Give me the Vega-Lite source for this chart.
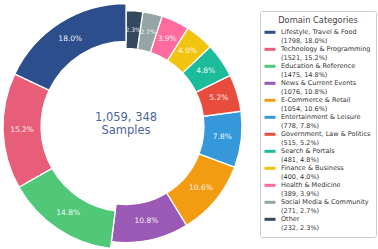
{
  "$schema": "https://vega.github.io/schema/vega-lite/v6.json",
  "width": 250,
  "height": 245,
  "padding": 0,
  "autosize": {"type": "pad"},
  "background": "white",
  "config": {"view": {"stroke": null}, "font": "DejaVu Sans"},
  "layer": [
    {
      "data": {
        "values": [
          {"category": "Lifestyle, Travel & Food", "count": 1798, "pct": 18.0, "rank": 1},
          {"category": "Technology & Programming", "count": 1521, "pct": 15.2, "rank": 2},
          {"category": "Education & Reference", "count": 1475, "pct": 14.8, "rank": 3},
          {"category": "News & Current Events", "count": 1076, "pct": 10.8, "rank": 4},
          {"category": "E-Commerce & Retail", "count": 1054, "pct": 10.6, "rank": 5},
          {"category": "Entertainment & Leisure", "count": 778, "pct": 7.8, "rank": 6},
          {"category": "Government, Law & Politics", "count": 515, "pct": 5.2, "rank": 7},
          {"category": "Search & Portals", "count": 481, "pct": 4.8, "rank": 8},
          {"category": "Finance & Business", "count": 400, "pct": 4.0, "rank": 9},
          {"category": "Health & Medicine", "count": 389, "pct": 3.9, "rank": 10},
          {"category": "Social Media & Community", "count": 271, "pct": 2.7, "rank": 11},
          {"category": "Other", "count": 232, "pct": 2.3, "rank": 12}
        ]
      },
      "transform": [
        {"calculate": "datum.category + '|(' + datum.count + ', ' + format(datum.pct, '.1f') + '%)'", "as": "legendLabel"},
        {"calculate": "format(datum.pct, '.1f') + '%'", "as": "pctText"},
        {"stack": "count", "groupby": [], "sort": [{"field": "rank", "order": "descending"}], "as": ["start", "end"]},
        {"joinaggregate": [{"op": "sum", "field": "count", "as": "total"}]},
        {"calculate": "datum.start / datum.total", "as": "startFrac"},
        {"calculate": "datum.end / datum.total", "as": "endFrac"},
        {"calculate": "(datum.start + datum.end) / 2 / datum.total", "as": "midFrac"}
      ],
      "layer": [
        {
          "transform": [{"filter": "datum.rank > 3"}],
          "mark": {"type": "arc", "outerRadius": 116, "innerRadius": 78, "stroke": "white", "strokeWidth": 1.3},
          "encoding": {
            "theta": {"field": "startFrac", "type": "quantitative", "stack": null, "scale": {"domain": [0, 1]}},
            "theta2": {"field": "endFrac"},
            "color": {
              "field": "legendLabel",
              "type": "nominal",
              "sort": {"field": "rank", "op": "min"},
              "scale": {"range": ["#2c4e8c", "#e85d78", "#50c878", "#9b59b6", "#f39c12", "#3498db", "#e74c3c", "#1abc9c", "#f1c40f", "#ff6b9d", "#95a5a6", "#34495e"]},
              "legend": {
                "orient": "none",
                "legendX": 259,
                "legendY": 7,
                "title": "Domain Categories",
                "titleAnchor": "middle",
                "titleFontSize": 8.3,
                "titleFontWeight": "normal",
                "titleColor": "#444",
                "titlePadding": 3,
                "labelFontSize": 6.5,
                "labelColor": "#333",
                "labelLineHeight": 6.5,
                "labelOffset": 6,
                "labelExpr": "split(datum.label, '|')",
                "labelLimit": 200,
                "symbolType": "M-1.1,-0.3H1.1V0.3H-1.1Z",
                "symbolSize": 100,
                "symbolStrokeWidth": 0,
                "rowPadding": 0,
                "padding": 5,
                "strokeColor": "#cccccc",
                "fillColor": "white",
                "cornerRadius": 2
              }
            }
          }
        },
        {
          "transform": [{"filter": "datum.rank <= 3"}],
          "mark": {"type": "arc", "outerRadius": 123, "innerRadius": 85, "stroke": "white", "strokeWidth": 1.3},
          "encoding": {
            "theta": {"field": "startFrac", "type": "quantitative", "stack": null},
            "theta2": {"field": "endFrac"},
            "color": {"field": "legendLabel", "type": "nominal", "sort": {"field": "rank", "op": "min"}}
          }
        },
        {
          "transform": [{"filter": "datum.rank > 3"}],
          "mark": {"type": "text", "radius": 97, "color": "white", "opacity": 0.9, "baseline": "middle", "align": "center"},
          "encoding": {
            "theta": {"field": "midFrac", "type": "quantitative", "stack": null},
            "text": {"field": "pctText"},
            "size": {"condition": {"test": "datum.pct < 3", "value": 6}, "value": 7.5}
          }
        },
        {
          "transform": [{"filter": "datum.rank <= 3"}],
          "mark": {"type": "text", "radius": 104, "color": "white", "opacity": 0.9, "baseline": "middle", "align": "center", "fontSize": 7.5},
          "encoding": {
            "theta": {"field": "midFrac", "type": "quantitative", "stack": null},
            "text": {"field": "pctText"}
          }
        }
      ]
    },
    {
      "data": {"values": [{"lines": "1,059, 348|Samples"}]},
      "transform": [{"calculate": "split(datum.lines, '|')", "as": "textLines"}],
      "mark": {"type": "text", "fontSize": 11.5, "color": "#4a66a0", "align": "center", "baseline": "middle", "lineHeight": 13.3, "dy": -8.5},
      "encoding": {"text": {"field": "textLines"}}
    }
  ]
}
